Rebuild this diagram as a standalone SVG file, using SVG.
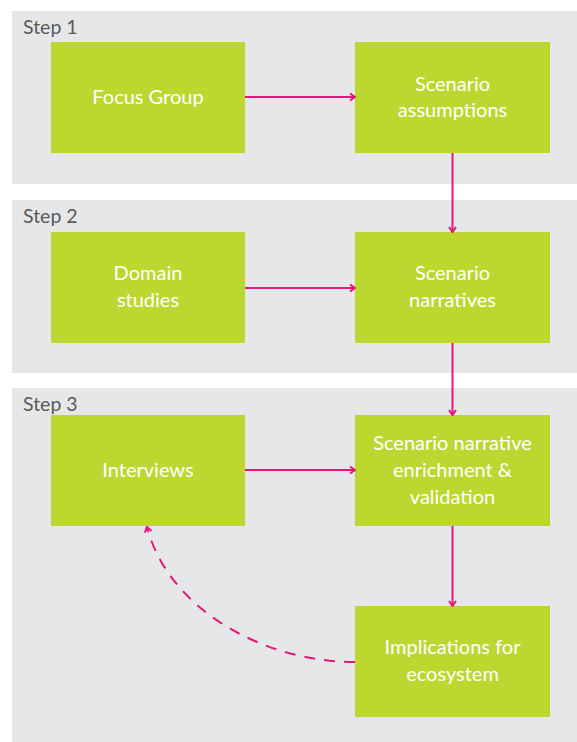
<svg xmlns="http://www.w3.org/2000/svg" width="577" height="742" viewBox="0 0 577 742">
<style>
.panel{fill:#E6E7E9}
.box{fill:#BDD731}
.lbl{font-family:Lato,"Liberation Sans",sans-serif;font-size:20px;fill:#ffffff;text-anchor:middle}
.step{font-family:Lato,"Liberation Sans",sans-serif;font-size:19.5px;fill:#595959}
.c{fill:none;stroke:#E5177B;stroke-width:2}
.d{stroke-dasharray:11 9}
</style>
<defs>
<marker id="ah" viewBox="0 0 10 10" refX="9" refY="5" markerWidth="10" markerHeight="10" markerUnits="userSpaceOnUse" orient="auto">
<path d="M4,1.5 L9,5 L4,8.5" fill="none" stroke="#E5177B" stroke-width="2"/>
</marker>
</defs>
<g id="panels">
<rect class="panel" x="12" y="11" width="565" height="173"/>
<text class="step" x="23" y="34">Step 1</text>
<rect class="panel" x="12" y="200" width="565" height="173"/>
<text class="step" x="23" y="223">Step 2</text>
<rect class="panel" x="12" y="388" width="565" height="354"/>
<text class="step" x="23" y="411">Step 3</text>
</g>
<g id="focus-group"><rect class="box" x="51" y="42" width="194" height="111"/><text class="lbl" x="148" y="104">Focus Group</text></g>
<g id="scenario-assumptions"><rect class="box" x="355" y="42" width="195" height="111"/><text class="lbl" x="452.5" y="90.5">Scenario</text><text class="lbl" x="452.5" y="117">assumptions</text></g>
<g id="domain-studies"><rect class="box" x="51" y="232" width="194" height="111"/><text class="lbl" x="148" y="280">Domain</text><text class="lbl" x="148" y="306.5">studies</text></g>
<g id="scenario-narratives"><rect class="box" x="355" y="232" width="195" height="111"/><text class="lbl" x="452.5" y="280">Scenario</text><text class="lbl" x="452.5" y="306.5">narratives</text></g>
<g id="interviews"><rect class="box" x="51" y="415" width="194" height="111"/><text class="lbl" x="148" y="476.5">Interviews</text></g>
<g id="enrichment"><rect class="box" x="355" y="415" width="195" height="111"/><text class="lbl" x="452.5" y="450">Scenario narrative</text><text class="lbl" x="452.5" y="477">enrichment &amp;</text><text class="lbl" x="452.5" y="504">validation</text></g>
<g id="implications"><rect class="box" x="355" y="606" width="195" height="111"/><text class="lbl" x="452.5" y="654">Implications for</text><text class="lbl" x="452.5" y="680.5">ecosystem</text></g>
<g id="connectors">
<path class="c" d="M245,97 H355" marker-end="url(#ah)"/>
<path class="c" d="M452.5,153 V232" marker-end="url(#ah)"/>
<path class="c" d="M245,288 H355" marker-end="url(#ah)"/>
<path class="c" d="M452.5,343 V415" marker-end="url(#ah)"/>
<path class="c" d="M245,470 H355" marker-end="url(#ah)"/>
<path class="c" d="M452.5,526 V606" marker-end="url(#ah)"/>
<path class="c d" d="M355,662 C262,662 168,608 147,527" marker-end="url(#ah)"/>
</g>
</svg>
